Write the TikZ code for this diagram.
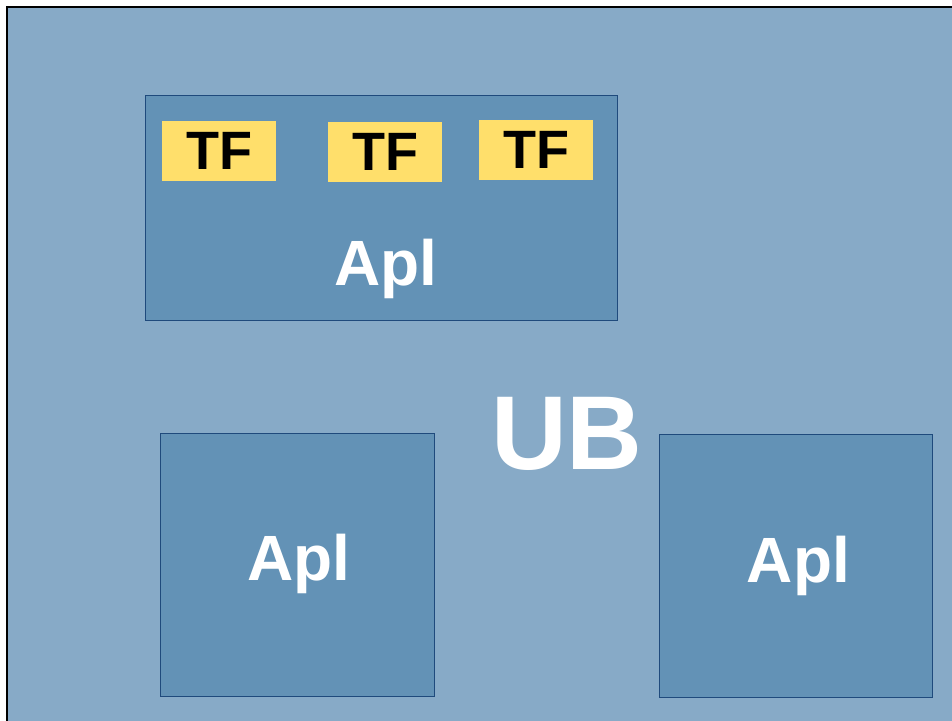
\documentclass[tikz,border=0pt]{standalone}
\usepackage{fontspec}
\setmainfont{Liberation Sans}
\definecolor{ubblue}{HTML}{87AAC7}
\definecolor{aplblue}{HTML}{6392B6}
\definecolor{aplline}{HTML}{1F4A7C}
\definecolor{tfyellow}{HTML}{FFDF6B}
\begin{document}
\begin{tikzpicture}[x=1pt, y=-1pt,
    apl/.style={draw=aplline, line width=0.9pt, fill=aplblue, inner sep=0pt},
    tf/.style={fill=tfyellow, inner sep=0pt, minimum width=114pt, minimum height=60pt,
        font=\fontsize{54}{54}\selectfont\bfseries},
    big/.style={text=white, inner sep=0pt, font=\fontsize{64}{64}\selectfont\bfseries}]
    \useasboundingbox (0,0) rectangle (952,720);
    \draw[fill=ubblue, line width=1.5pt] (7,7) rectangle (970,721.5);
    % applets
    \node[apl, minimum width=472pt, minimum height=225pt] (top) at (381,207.5) {};
    \node[apl, minimum width=274pt, minimum height=263pt] (left) at (297,564.5) {};
    \node[apl, minimum width=273pt, minimum height=263pt] (right) at (795.5,565.5) {};
    \node[big, anchor=base] (toplbl) at (386,285) {Apl};
    \node[big, anchor=base] (leftlbl) at (299,580) {Apl};
    \node[big, anchor=base] (rightlbl) at (798.5,582) {Apl};
    % TF boxes
    \node[tf] (tf1) at (219,151) {TF};
    \node[tf] (tf2) at (385,152) {TF};
    \node[tf] (tf3) at (536,149.5) {TF};
    \node[big, anchor=base, font=\fontsize{105}{105}\selectfont\bfseries] (ub) at (567,469) {UB};
\end{tikzpicture}
\end{document}
